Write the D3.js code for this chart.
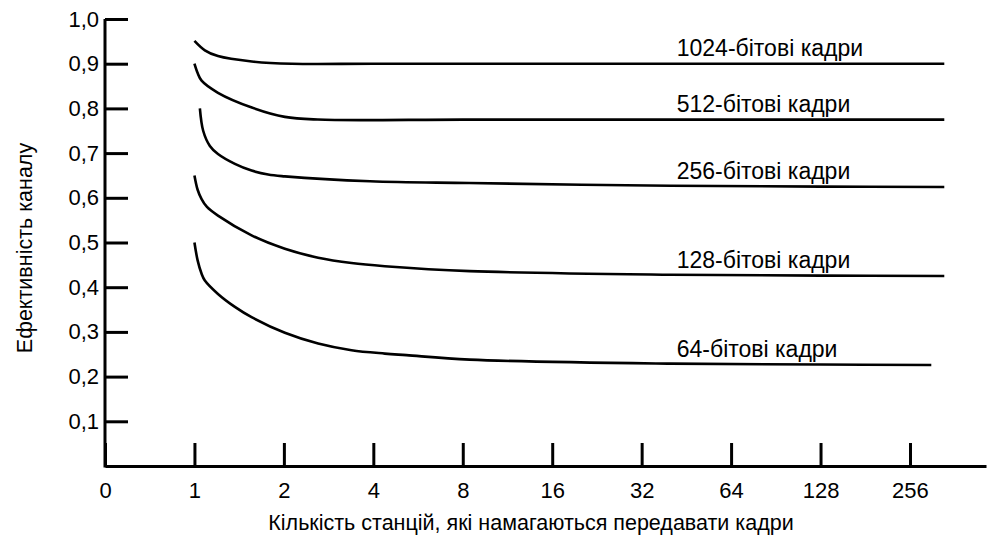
<!DOCTYPE html>
<html>
<head>
<meta charset="utf-8">
<script src="https://cdn.jsdelivr.net/npm/d3@7"></script>
<style>
  body { margin: 0; background: #fff; }
  text { font-family: "Liberation Sans", Arial, sans-serif; fill: #000; }
</style>
</head>
<body>
<div class="svg-container"></div>
<script>
// tick labels
const xTicks = [0, 1, 2, 4, 8, 16, 32, 64, 128, 256];
const yTicks = [0.1, 0.2, 0.3, 0.4, 0.5, 0.6, 0.7, 0.8, 0.9, 1.0];

// series: number of stations vs channel efficiency
const seriesNames = ["1024-бітові кадри", "512-бітові кадри", "256-бітові кадри", "128-бітові кадри", "64-бітові кадри"];

const stations1024 = [1, 1.084, 1.2, 1.56, 2.13, 4, 16, 64, 334];
const eff1024 = [0.951, 0.93, 0.917, 0.905, 0.9, 0.9, 0.9, 0.9, 0.9];

const stations512 = [1, 1.025, 1.057, 1.2, 1.56, 2.015, 2.6, 8, 32, 128, 334];
const eff512 = [0.9, 0.879, 0.862, 0.835, 0.802, 0.781, 0.775, 0.775, 0.775, 0.775, 0.775];

const stations256 = [1.043, 1.07, 1.127, 1.2, 1.368, 1.557, 1.77, 2.015, 3.9, 8.4, 40, 128, 334];
const eff256 = [0.8, 0.75, 0.716, 0.698, 0.676, 0.661, 0.652, 0.648, 0.637, 0.633, 0.627, 0.625, 0.624];

const stations128 = [1, 1.025, 1.057, 1.1, 1.2, 1.557, 2.015, 2.608, 3.378, 4.372, 8.44, 40, 128, 334];
const eff128 = [0.65, 0.618, 0.597, 0.58, 0.56, 0.516, 0.486, 0.466, 0.454, 0.447, 0.436, 0.428, 0.426, 0.425];

const stations64 = [1, 1.025, 1.057, 1.084, 1.2, 1.368, 1.557, 2.015, 2.608, 3.378, 4.372, 5.17, 8.44, 40, 128, 302];
const eff64 = [0.5, 0.46, 0.43, 0.415, 0.385, 0.356, 0.333, 0.298, 0.274, 0.259, 0.2515, 0.248, 0.238, 0.229, 0.227, 0.226];

const seriesStations = [stations1024, stations512, stations256, stations128, stations64];
const seriesEff = [eff1024, eff512, eff256, eff128, eff64];

const width = 987;
const height = 538;
const margin = { top: 19, bottom: 72, left: 105, right: 1 };

const svg = d3.select('.svg-container').append('svg')
  .attr('width', width)
  .attr('height', height);

// x positions are evenly spaced per doubling, with 0 one step before 1
const xIndex = d3.scaleLinear()
  .domain([0, 9.85])
  .range([margin.left, width - margin.right]);
const xPos = n => xIndex(n <= 0 ? 0 : Math.log2(n) + 1);

const yScale = d3.scaleLinear()
  .domain([0, 1])
  .range([height - margin.bottom, margin.top]);

const formatComma = d => d3.format('.1f')(d).replace('.', ',');

// axes
const xAxis = d3.axisBottom(xIndex)
  .tickValues(d3.range(xTicks.length))
  .tickFormat(i => xTicks[i])
  .tickSizeInner(-23)
  .tickSizeOuter(0)
  .tickPadding(16);

const yAxis = d3.axisLeft(yScale)
  .tickValues(yTicks)
  .tickFormat(formatComma)
  .tickSizeInner(-23)
  .tickSizeOuter(0)
  .tickPadding(6);

const gx = svg.append('g')
  .attr('transform', `translate(0, ${yScale(0)})`)
  .call(xAxis);

const gy = svg.append('g')
  .attr('transform', `translate(${margin.left}, 0)`)
  .call(yAxis);

[gx, gy].forEach(g => {
  g.select('.domain').attr('stroke', '#000').attr('stroke-width', 3);
  g.selectAll('.tick line').attr('stroke', '#000').attr('stroke-width', 3);
  g.selectAll('.tick text')
    .style('font-size', '22px')
    .style('font-family', '"Liberation Sans", Arial, sans-serif')
    .attr('fill', '#000');
});
gy.select('.domain').attr('d', `M0,${yScale(1)}V${yScale(0) + 1.5}`);

// curves
const line = d3.line()
  .x(d => xPos(d[0]))
  .y(d => yScale(d[1]))
  .curve(d3.curveCatmullRom.alpha(0.5));

seriesNames.forEach((name, k) => {
  const pts = seriesStations[k].map((n, i) => [n, seriesEff[k][i]]);
  svg.append('path')
    .datum(pts)
    .attr('fill', 'none')
    .attr('stroke', '#000')
    .attr('stroke-width', 2.6)
    .attr('d', line);

  const last = seriesEff[k][seriesEff[k].length - 1];
  svg.append('text')
    .attr('x', xPos(42))
    .attr('y', yScale(last) - 8)
    .style('font-size', '23px')
    .text(name);
});

// axis titles
svg.append('text')
  .attr('x', 531)
  .attr('y', 530)
  .style('text-anchor', 'middle')
  .style('font-size', '21.5px')
  .text('Кількість станцій, які намагаються передавати кадри');

svg.append('text')
  .attr('transform', 'translate(32, 248) rotate(-90)')
  .style('text-anchor', 'middle')
  .style('font-size', '21.5px')
  .text('Ефективність каналу');
</script>
</body>
</html>
